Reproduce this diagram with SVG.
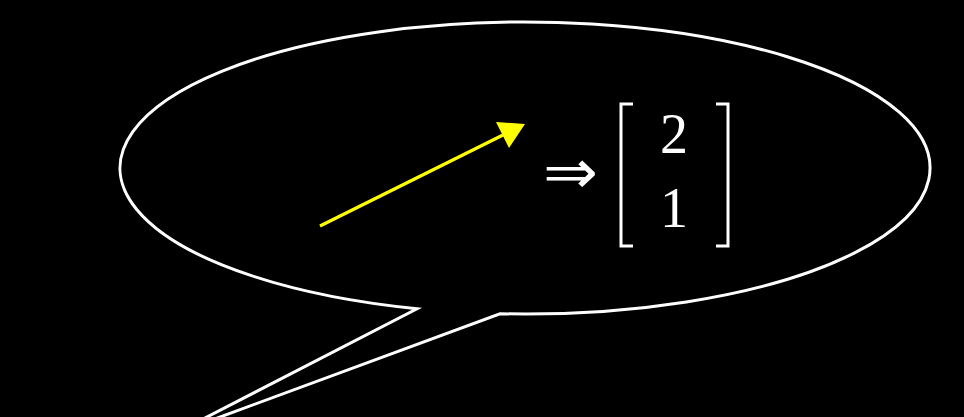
<svg xmlns="http://www.w3.org/2000/svg" width="964" height="417" viewBox="0 0 964 417">
<style>
.w{fill:none;stroke:#fff;stroke-width:3;stroke-linejoin:miter}
.t{fill:#fff;font-family:"Liberation Serif","DejaVu Serif",serif;font-size:56px;text-anchor:middle}
</style>
<rect width="964" height="417" fill="#000"/>
<g id="bubble">
<path class="w" d="M417,308.71 A405,146 0 1 1 500,313.72 L174,434 Z"/>
</g>
<g id="connectors">
<line x1="320" y1="226" x2="503" y2="135" stroke="#ffff00" stroke-width="3.2"/>
<polygon points="525,124 496,122 509,148" fill="#ffff00"/>
</g>
<g id="matrix">
<text x="543" y="193" textLength="55" lengthAdjust="spacingAndGlyphs" style="fill:#fff;font-family:'DejaVu Sans',sans-serif;font-size:62px">⇒</text>
<path class="w" d="M633,104 L621,104 L621,246 L633,246"/>
<path class="w" d="M716,104 L728,104 L728,246 L716,246"/>
<text class="t" x="674" y="153">2</text>
<text class="t" x="674" y="227">1</text>
</g>
</svg>
